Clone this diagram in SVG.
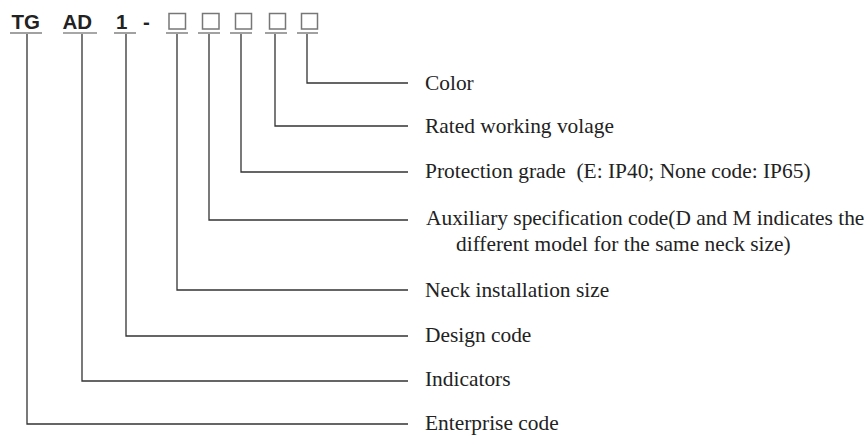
<svg xmlns="http://www.w3.org/2000/svg" width="864" height="435" viewBox="0 0 864 435">
<style>
.code{font-family:"Liberation Sans",Arial,sans-serif;font-weight:bold;font-size:20.5px;fill:#222}
.lbl{font-family:"Liberation Serif","Times New Roman",serif;font-size:21.4px;fill:#222;white-space:pre}
.ul{stroke:#8a8a8a;stroke-width:1.6;fill:none}
.box{stroke:#777;stroke-width:1.5;fill:none}
.con{stroke:#333;stroke-width:1.3;fill:none}
</style>
<rect width="864" height="435" fill="#fff"/>
<g id="code-TG"><text class="code" x="11.5" y="28.5">TG</text><line class="ul" x1="10" y1="33" x2="42" y2="33"/></g>
<g id="code-AD"><text class="code" x="62.5" y="28.5">AD</text><line class="ul" x1="63" y1="33" x2="97" y2="33"/></g>
<g id="code-1"><text class="code" x="116" y="28.5">1</text><line class="ul" x1="114" y1="33" x2="136" y2="33"/></g>
<g id="dash"><text class="code" x="143" y="28.5">-</text></g>
<g id="box1"><rect class="box" x="169" y="13.5" width="16.5" height="15.5"/><line class="ul" x1="166" y1="33" x2="188" y2="33"/></g>
<g id="box2"><rect class="box" x="202.5" y="13.5" width="16.5" height="15.5"/><line class="ul" x1="198" y1="33" x2="220" y2="33"/></g>
<g id="box3"><rect class="box" x="235.5" y="13.5" width="16" height="15.5"/><line class="ul" x1="230" y1="33" x2="252" y2="33"/></g>
<g id="box4"><rect class="box" x="269.5" y="13.5" width="16" height="15.5"/><line class="ul" x1="265" y1="33" x2="287" y2="33"/></g>
<g id="box5"><rect class="box" x="301.5" y="13.5" width="16" height="15.5"/><line class="ul" x1="297" y1="33" x2="318" y2="33"/></g>
<g id="connectors">
<polyline class="con" points="307,34 307,83 408,83"/>
<polyline class="con" points="275,34 275,126 408,126"/>
<polyline class="con" points="241,34 241,172 408,172"/>
<polyline class="con" points="209,34 209,220 408,220"/>
<polyline class="con" points="177,34 177,290 408,290"/>
<polyline class="con" points="126,34 126,336 408,336"/>
<polyline class="con" points="82,34 82,381 408,381"/>
<polyline class="con" points="27,34 27,424 408,424"/>
</g>
<g id="label-color"><text class="lbl" x="425" y="90">Color</text></g>
<g id="label-voltage"><text class="lbl" x="425" y="133">Rated working volage</text></g>
<g id="label-protection"><text class="lbl" x="425" y="178">Protection grade  (E: IP40; None code: IP65)</text></g>
<g id="label-aux"><text class="lbl" x="426" y="225">Auxiliary specification code(D and M indicates the</text><text class="lbl" x="456" y="251">different model for the same neck size)</text></g>
<g id="label-neck"><text class="lbl" x="425" y="297">Neck installation size</text></g>
<g id="label-design"><text class="lbl" x="425" y="342">Design code</text></g>
<g id="label-indicators"><text class="lbl" x="425" y="386">Indicators</text></g>
<g id="label-enterprise"><text class="lbl" x="425" y="430">Enterprise code</text></g>
</svg>
